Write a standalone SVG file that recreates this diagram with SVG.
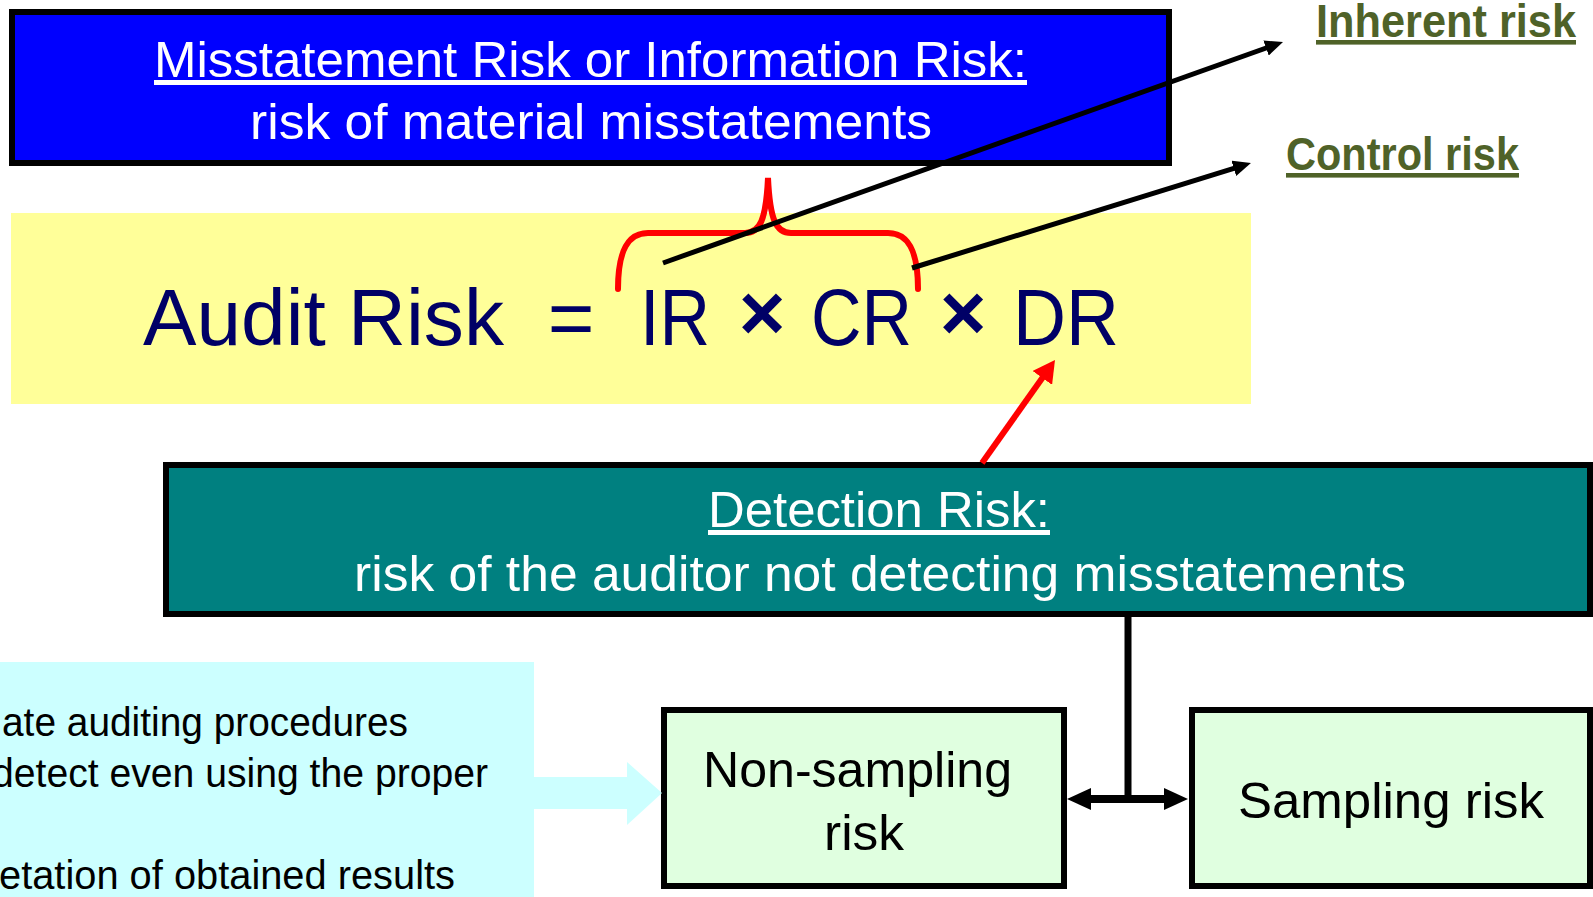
<svg xmlns="http://www.w3.org/2000/svg" width="1593" height="897" viewBox="0 0 1593 897">
<style>
.t{font-family:"Liberation Sans Narrow","Liberation Sans","DejaVu Sans Condensed",sans-serif}
.w{fill:#FFFFFF;font-size:50px}
.u{text-decoration:underline}
.f{fill:#000066;font-size:80px}
.o{fill:#4F6228;font-size:46px;font-weight:bold}
.b{fill:#000000;font-size:50px}
.c{fill:#000000;font-size:40px}
.box{stroke:#000000;stroke-width:6}
</style>
<defs>
<marker id="ah" markerUnits="userSpaceOnUse" viewBox="0 0 18 16" markerWidth="18" markerHeight="16" refX="6" refY="8" orient="auto">
<path d="M0,0 L18,8 L0,16 z" fill="#000000"/>
</marker>
<marker id="ahr" markerUnits="userSpaceOnUse" viewBox="0 0 22 24" markerWidth="22" markerHeight="24" refX="8" refY="12" orient="auto">
<path d="M0,0 L22,12 L0,24 z" fill="#FF0000"/>
</marker>
</defs>
<rect width="1593" height="897" fill="#FFFFFF"/>

<g id="misstatement">
<rect class="box" x="12" y="12" width="1157" height="151" fill="#0000FF"/>
<text class="t w u" x="154" y="77" textLength="873" lengthAdjust="spacingAndGlyphs">Misstatement Risk or Information Risk:</text>
<text class="t w" x="250" y="139" textLength="682" lengthAdjust="spacingAndGlyphs">risk of material misstatements</text>
</g>

<g id="formula">
<rect x="11" y="213" width="1240" height="191" fill="#FFFF99"/>
<text class="t f" x="143" y="345" textLength="361" lengthAdjust="spacingAndGlyphs">Audit Risk</text>
<text class="t f" x="571" y="345" text-anchor="middle">=</text>
<text class="t f" x="640" y="345" textLength="70" lengthAdjust="spacingAndGlyphs">IR</text>
<text class="t f" x="762" y="340" text-anchor="middle" font-weight="bold">×</text>
<text class="t f" x="811" y="345" textLength="101" lengthAdjust="spacingAndGlyphs">CR</text>
<text class="t f" x="963" y="340" text-anchor="middle" font-weight="bold">×</text>
<text class="t f" x="1013" y="345" textLength="106" lengthAdjust="spacingAndGlyphs">DR</text>
</g>

<g id="inherent">
<text class="t o u" x="1316" y="37" textLength="260" lengthAdjust="spacingAndGlyphs">Inherent risk</text>
</g>
<g id="control">
<text class="t o u" x="1286" y="170" textLength="233" lengthAdjust="spacingAndGlyphs">Control risk</text>
</g>

<g id="detection">
<rect class="box" x="166" y="465" width="1424" height="149" fill="#008080"/>
<text class="t w u" x="708" y="527" textLength="342" lengthAdjust="spacingAndGlyphs">Detection Risk:</text>
<text class="t w" x="354" y="591" textLength="1052" lengthAdjust="spacingAndGlyphs">risk of the auditor not detecting misstatements</text>
</g>

<g id="causes">
<rect x="0" y="662" width="534" height="240" fill="#CCFFFF"/>
<text class="t c" x="2" y="736" textLength="406" lengthAdjust="spacingAndGlyphs">ate auditing procedures</text>
<text class="t c" x="-8" y="787" textLength="496" lengthAdjust="spacingAndGlyphs">detect even using the proper</text>
<text class="t c" x="-1" y="889" textLength="456" lengthAdjust="spacingAndGlyphs">etation of obtained results</text>
</g>

<g id="nonsampling">
<rect class="box" x="664" y="710" width="400" height="176" fill="#E0FFE0"/>
<text class="t b" x="703" y="787" textLength="309" lengthAdjust="spacingAndGlyphs">Non-sampling</text>
<text class="t b" x="824" y="850" textLength="80" lengthAdjust="spacingAndGlyphs">risk</text>
</g>

<g id="sampling">
<rect class="box" x="1192" y="710" width="398" height="176" fill="#E0FFE0"/>
<text class="t b" x="1238" y="818" textLength="306" lengthAdjust="spacingAndGlyphs">Sampling risk</text>
</g>

<g id="connectors">
<path d="M618,289 C618,250 628,233 648,233 L745,233 C760,233 766,220 768,178 C770,220 776,233 791,233 L888,233 C908,233 918,250 918,289" fill="none" stroke="#FF0000" stroke-width="6" stroke-linecap="round"/>
<line x1="663" y1="263" x2="1271.7" y2="46" stroke="#000000" stroke-width="5" marker-end="url(#ah)"/>
<line x1="912" y1="268" x2="1239.5" y2="166.6" stroke="#000000" stroke-width="5" marker-end="url(#ah)"/>
<line x1="982" y1="463" x2="1046.9" y2="371.4" stroke="#FF0000" stroke-width="6" marker-end="url(#ahr)"/>
<polygon points="533,777 627,777 627,762 662,793 627,825 627,809 533,809" fill="#CCFFFF"/>
<line x1="1128" y1="617" x2="1128" y2="802" stroke="#000000" stroke-width="7"/>
<line x1="1085" y1="799" x2="1170" y2="799" stroke="#000000" stroke-width="8"/>
<polygon points="1067,799 1091,788 1091,810" fill="#000000"/>
<polygon points="1188,799 1164,788 1164,810" fill="#000000"/>
</g>
</svg>
